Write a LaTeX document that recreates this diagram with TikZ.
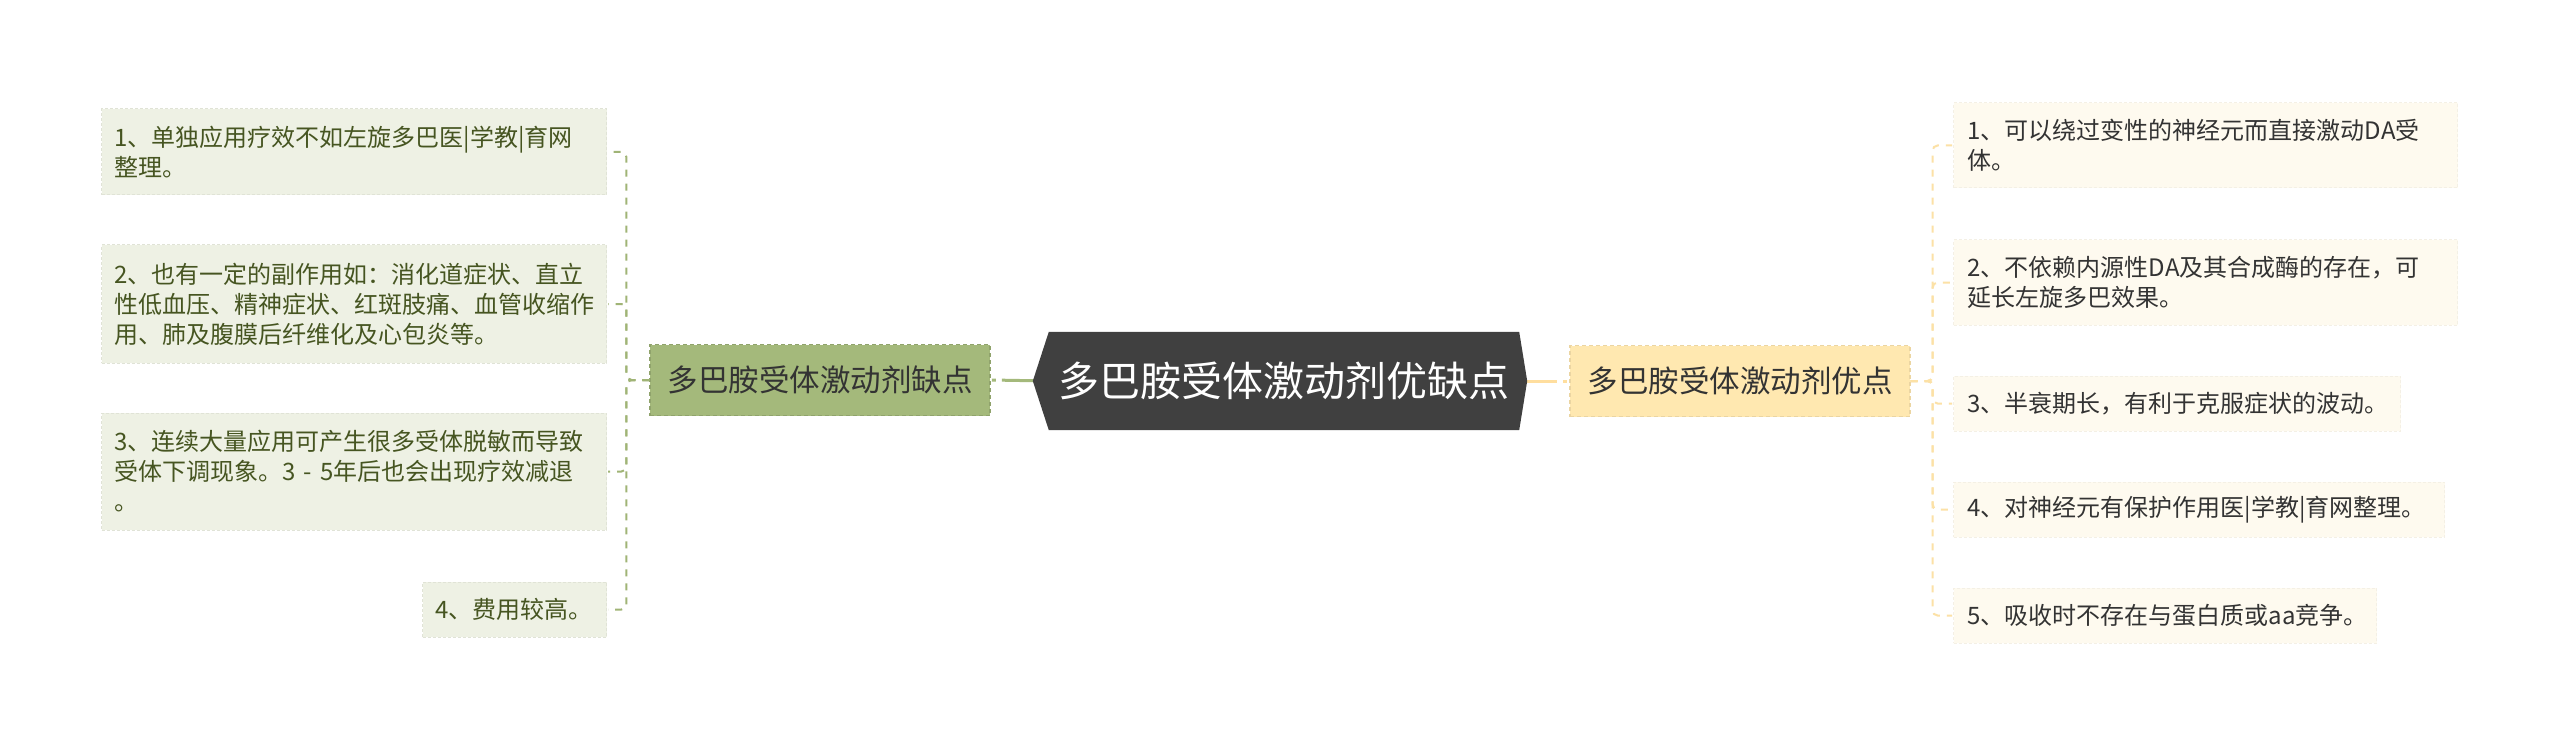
\documentclass[tikz,border=0pt]{standalone}
\usepackage{fontspec}
\setmainfont{Noto Sans CJK SC}
\usetikzlibrary{calc}
\pgfdeclarelayer{bg}
\pgfsetlayers{bg,main}
\definecolor{cdark}{HTML}{404040}
\definecolor{gfill}{HTML}{A4B97B}
\definecolor{gline}{HTML}{A0B476}
\definecolor{gleaf}{HTML}{EEF1E4}
\definecolor{gtext}{HTML}{465521}
\definecolor{ofill}{HTML}{FFE8B0}
\definecolor{oline}{HTML}{FCE1A6}
\definecolor{oleaf}{HTML}{FEFAEF}
\definecolor{otext}{HTML}{333333}
\begin{document}
\begin{tikzpicture}[x=1pt,y=-1pt,
  centerbox/.style={minimum width=470pt, minimum height=98pt, inner sep=0pt,
    text=white, font=\fontsize{41}{46}\selectfont},
  mainbox/.style={minimum width=340pt, minimum height=71pt, inner sep=0pt,
    line width=1.2pt, dash pattern=on 4pt off 3pt, text=otext,
    font=\fontsize{30.5}{34}\selectfont},
  leafL/.style 2 args={fill=gleaf, draw=gleaf!94!black, line width=1pt,
    dash pattern=on 3pt off 2pt, text=gtext, font=\fontsize{24}{30}\selectfont,
    align=left, inner xsep=13pt, inner ysep=0pt, text width=#1,
    minimum height=#2, anchor=east},
  leafR/.style 2 args={fill=oleaf, draw=oleaf!96!black, line width=1pt,
    dash pattern=on 3pt off 2pt, text=otext, font=\fontsize{24}{30}\selectfont,
    align=left, inner xsep=14pt, inner ysep=0pt, text width=#1,
    minimum height=#2, anchor=west},
  lconn/.style={draw=gline, line width=2pt, dash pattern=on 7pt off 7pt,
    rounded corners=5pt, shorten >=1pt},
  rconn/.style={draw=oline, line width=2pt, dash pattern=on 7pt off 7pt,
    rounded corners=5pt, shorten >=1pt},
]
\useasboundingbox (0,0) rectangle (2560,746);
\begin{pgfonlayer}{bg}
  \fill[white] (0,0) rectangle (2560,746);
\end{pgfonlayer}

% central topic
\node[centerbox] (C) at (1284,381) {多巴胺受体激动剂优缺点};

% main branches
\node[mainbox, fill=gfill, draw=gfill!88!black] (Lm) at (820,380) {多巴胺受体激动剂缺点};
\node[mainbox, fill=ofill, draw=ofill!92!black] (Rm) at (1740,381) {多巴胺受体激动剂优点};

% left leaves
\node[leafL={479pt}{86pt}] (L1) at (607,152) {1、单独应用疗效不如左旋多巴医|学教|育网\\整理。};
\node[leafL={479pt}{118pt}] (L2) at (607,304) {2、也有一定的副作用如：消化道症状、直立\\性低血压、精神症状、红斑肢痛、血管收缩作\\用、肺及腹膜后纤维化及心包炎等。};
\node[leafL={479pt}{117pt}] (L3) at (607,471.5) {3、连续大量应用可产生很多受体脱敏而导致\\受体下调现象。3~-~5年后也会出现疗效减退\\。};
\node[leafL={158pt}{55pt}] (L4) at (607,609.5) {4、费用较高。};

% right leaves
\node[leafR={476pt}{85pt}] (R1) at (1953,145.5) {1、可以绕过变性的神经元而直接激动DA受\\体。};
\node[leafR={476pt}{85pt}] (R2) at (1953,282.5) {2、不依赖内源性DA及其合成酶的存在，可\\延长左旋多巴效果。};
\node[leafR={419pt}{55pt}] (R3) at (1953,403.5) {3、半衰期长，有利于克服症状的波动。};
\node[leafR={463pt}{55pt}] (R4) at (1953,509.5) {4、对神经元有保护作用医|学教|育网整理。};
\node[leafR={395pt}{55pt}] (R5) at (1953,615.5) {5、吸收时不存在与蛋白质或aa竞争。};

% connectors
\foreach \k in {L1,L2,L3,L4}
  \draw[lconn] (Lm.west) -- ++(-23,0) |- (\k.east);
\foreach \k in {R1,R2,R3,R4,R5}
  \draw[rconn] (Rm.east) -- ++(22,0) |- (\k.west);

\begin{pgfonlayer}{bg}
  \draw[gfill, line width=3pt, dash pattern=on 47pt off 6pt on 4pt off 10pt]
    (C.west) -- (Lm.east);
  \draw[ofill!90!orange, line width=3pt, dash pattern=on 38pt off 6pt on 4pt off 10pt]
    (C.east) -- (Rm.west);
  \fill[cdark] ([xshift=-16pt]C.west) -- (C.north west) -- (C.north east)
    -- ([xshift=8pt]C.east) -- (C.south east) -- (C.south west) -- cycle;
\end{pgfonlayer}
\end{tikzpicture}
\end{document}
